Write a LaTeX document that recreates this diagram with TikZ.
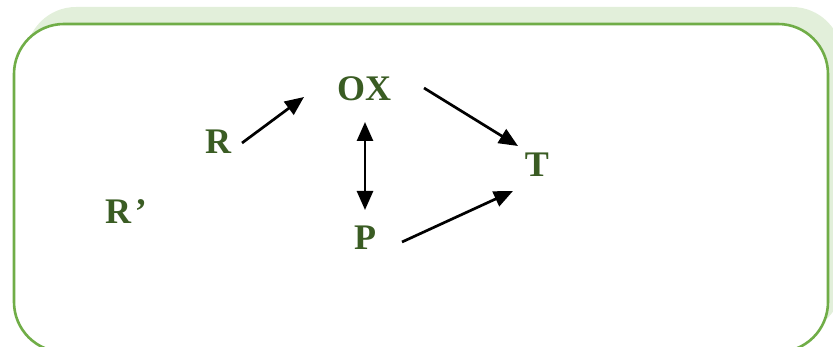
\documentclass[tikz,border=0pt]{standalone}
\usepackage{fontspec}
\setmainfont{Liberation Serif}
\usetikzlibrary{arrows.meta}
\definecolor{boxline}{HTML}{70AD47}
\definecolor{shadowfill}{HTML}{E2EFDA}
\definecolor{txt}{HTML}{3A5C23}
\tikzset{
  lbl/.style={text=txt, font=\fontsize{36}{36}\selectfont\bfseries, inner sep=0pt},
  arr/.style={line width=2.7pt, draw=black, -{Triangle[length=19pt,width=16pt]}},
  darr/.style={line width=2.7pt, draw=black, {Triangle[length=19pt,width=16pt]}-{Triangle[length=19pt,width=16pt]}},
}
\begin{document}
\begin{tikzpicture}[x=1pt,y=-1pt]
\useasboundingbox (0,0) rectangle (833,347);
\fill[shadowfill, rounded corners=50pt] (26,7) rectangle (842,333);
\draw[boxline, fill=white, line width=2.6pt, rounded corners=50pt] (14,24) rectangle (828,352);
\node[lbl] (OX) at (364,89) {OX};
\node[lbl] (R) at (218,142) {R};
\node[lbl] (T) at (537,165) {T};
\node[lbl] (P) at (365,238) {P};
\node[lbl] (Rp) at (126,212) {R\kern4pt’};
\draw[arr] ([shift={(24,1)}]R.center) -- ([shift={(-60,8)}]OX.center);
\draw[arr] ([shift={(60,-1)}]OX.center) -- ([shift={(-19,-19)}]T.center);
\draw[darr] ([shift={(1,33)}]OX.center) -- ([shift={(0,-28)}]P.center);
\draw[arr] ([shift={(37,4)}]P.center) -- ([shift={(-24,26)}]T.center);
\end{tikzpicture}
\end{document}
